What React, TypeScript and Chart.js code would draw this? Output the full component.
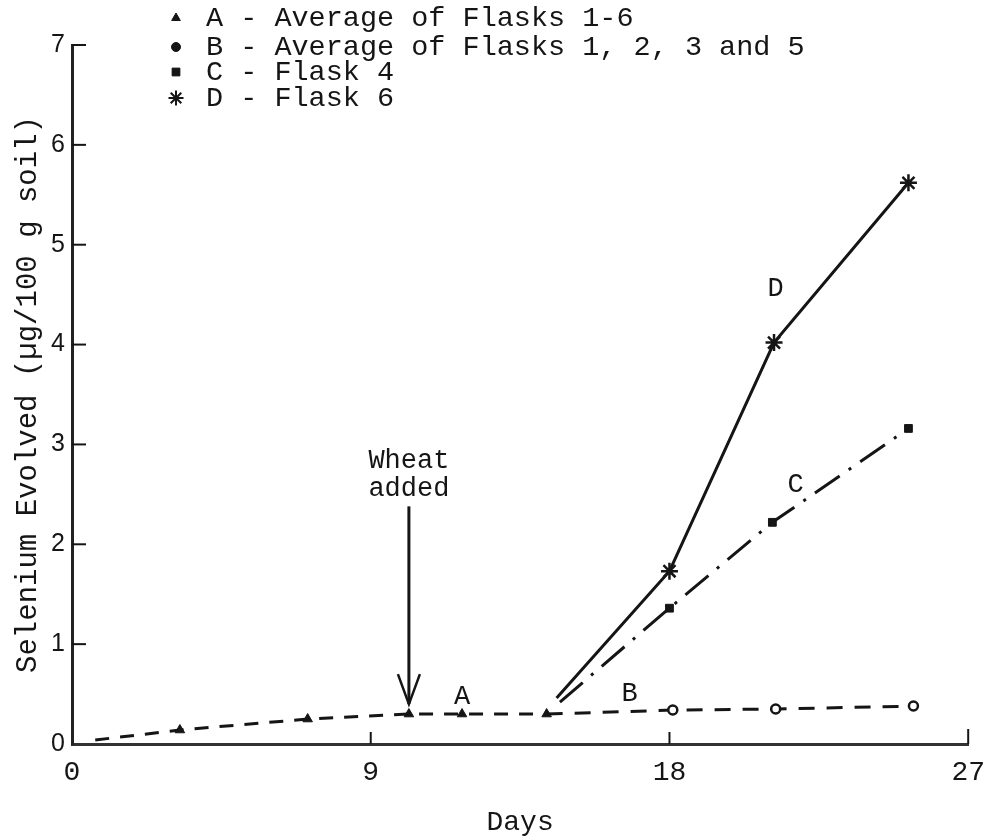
import React, { useEffect, useRef } from 'react';
import { Chart, registerables } from 'chart.js';
import { drawPoint } from 'chart.js/helpers';

Chart.register(...registerables);

// ---- data ----
const daysA = [0.7, 3.25, 7.1, 10.15, 11.75, 14.3];
const valuesA = [0.04, 0.14, 0.25, 0.3, 0.3, 0.3];
const daysB = [14.3, 18.1, 21.2, 25.35];
const valuesB = [0.3, 0.34, 0.35, 0.38];
const daysC = [14.7, 18.0, 21.1, 25.2];
const valuesC = [0.42, 1.36, 2.22, 3.16];
const daysD = [14.6, 18.0, 21.15, 25.2];
const valuesD = [0.46, 1.73, 4.02, 5.62];

const xTicks = [0, 9, 18, 27];
const yTicks = [0, 1, 2, 3, 4, 5, 6, 7];

const seriesLabels = [
  'A - Average of Flasks 1-6',
  'B - Average of Flasks 1, 2, 3 and 5',
  'C - Flask 4',
  'D - Flask 6',
];
const curveLetters = ['A', 'B', 'C', 'D'];
const curveLetterDays = [11.75, 16.8, 21.8, 21.2];
const curveLetterValues = [0.47, 0.5, 2.6, 4.56];

const wheatText = ['Wheat', 'added'];
const wheatDay = 10.15;
const wheatTextValues = [2.84, 2.56];
const wheatArrowTop = 2.38;
const wheatArrowBottom = 0.4;

const MONO = '"Liberation Mono", "DejaVu Sans Mono", monospace';
const INK = '#151515';

function pts(xs: number[], ys: number[]) {
  return xs.map((x, i) => ({ x, y: ys[i] }));
}

const overlayPlugin = {
  id: 'overlay',
  afterDatasetsDraw(chart: any) {
    const { ctx, chartArea, scales } = chart;
    const xs = scales.x;
    const ys = scales.y;
    ctx.save();
    ctx.strokeStyle = INK;
    ctx.lineWidth = 2;
    // inside tick marks
    xTicks.forEach((t) => {
      if (t === 0) return;
      const px = xs.getPixelForValue(t);
      ctx.beginPath();
      ctx.moveTo(px, chartArea.bottom);
      ctx.lineTo(px, chartArea.bottom - (t === 27 ? 15 : 12));
      ctx.stroke();
    });
    yTicks.forEach((t) => {
      if (t === 0) return;
      const py = ys.getPixelForValue(t);
      ctx.beginPath();
      ctx.moveTo(chartArea.left, py);
      ctx.lineTo(chartArea.left + 14, py);
      ctx.stroke();
    });

    // curve letters
    ctx.fillStyle = INK;
    ctx.font = `27px ${MONO}`;
    ctx.textAlign = 'center';
    ctx.textBaseline = 'middle';
    curveLetters.forEach((l, i) => {
      ctx.fillText(l, xs.getPixelForValue(curveLetterDays[i]), ys.getPixelForValue(curveLetterValues[i]));
    });

    // wheat added
    const wx = xs.getPixelForValue(wheatDay);
    wheatText.forEach((t, i) => {
      ctx.fillText(t, wx, ys.getPixelForValue(wheatTextValues[i]));
    });
    const top = ys.getPixelForValue(wheatArrowTop);
    const bot = ys.getPixelForValue(wheatArrowBottom);
    ctx.lineWidth = 3;
    ctx.beginPath();
    ctx.moveTo(wx, top);
    ctx.lineTo(wx, bot);
    ctx.stroke();
    ctx.lineWidth = 2.5;
    ctx.beginPath();
    ctx.moveTo(wx - 11, bot - 30);
    ctx.lineTo(wx, bot);
    ctx.lineTo(wx + 11, bot - 30);
    ctx.stroke();
    ctx.restore();
  },
  afterDraw(chart: any) {
    const { ctx } = chart;
    ctx.save();
    const rowY = [18, 47, 72, 98];
    const markerX = 176;
    const textX = 206;
    ctx.font = `28.5px ${MONO}`;
    ctx.textAlign = 'left';
    ctx.textBaseline = 'middle';
    ctx.fillStyle = INK;
    ctx.strokeStyle = INK;
    const styles = [
      { pointStyle: 'triangle', radius: 5, borderWidth: 1 },
      { pointStyle: 'circle', radius: 4.5, borderWidth: 1 },
      { pointStyle: 'rect', radius: 5.5, borderWidth: 1 },
      { pointStyle: 'star', radius: 7.5, borderWidth: 2 },
    ];
    seriesLabels.forEach((lab, i) => {
      ctx.fillStyle = INK;
      ctx.lineWidth = styles[i].borderWidth;
      drawPoint(ctx, { pointStyle: styles[i].pointStyle as any, radius: styles[i].radius, rotation: 0, borderWidth: styles[i].borderWidth }, markerX, rowY[i]);
      ctx.fillStyle = INK;
      ctx.fillText(lab, textX, rowY[i]);
    });
    ctx.restore();
  },
};

export default function App() {
  const ref = useRef<HTMLCanvasElement>(null);
  useEffect(() => {
    const canvas = ref.current!;
    const chart = new Chart(canvas, {
      type: 'line',
      data: {
        datasets: [
          {
            label: seriesLabels[0],
            data: pts(daysA, valuesA),
            borderColor: INK,
            borderWidth: 3,
            borderDash: [14, 11],
            pointStyle: 'triangle',
            pointRadius: daysA.map((_, i) => (i === 0 ? 0 : 5.5)),
            pointBackgroundColor: INK,
            pointBorderColor: INK,
            pointBorderWidth: 1,
          },
          {
            label: seriesLabels[1],
            data: pts(daysB, valuesB),
            borderColor: INK,
            borderWidth: 3,
            borderDash: [16, 12],
            pointStyle: 'circle',
            pointRadius: daysB.map((_, i) => (i === 0 ? 0 : 4.5)),
            pointBackgroundColor: '#fff',
            pointBorderColor: INK,
            pointBorderWidth: 2.5,
          },
          {
            label: seriesLabels[2],
            data: pts(daysC, valuesC),
            borderColor: INK,
            borderWidth: 3,
            borderDash: [30, 11, 3, 11],
            pointStyle: 'rect',
            pointRadius: daysC.map((_, i) => (i === 0 ? 0 : 5.5)),
            pointBackgroundColor: INK,
            pointBorderColor: INK,
            pointBorderWidth: 1,
          },
          {
            label: seriesLabels[3],
            data: pts(daysD, valuesD),
            borderColor: INK,
            borderWidth: 3,
            pointStyle: 'star',
            pointRadius: daysD.map((_, i) => (i === 0 ? 0 : 8.5)),
            pointBackgroundColor: INK,
            pointBorderColor: INK,
            pointBorderWidth: 2.5,
          },
        ],
      },
      options: {
        animation: false,
        responsive: true,
        maintainAspectRatio: false,
        layout: { padding: { left: 0, right: 20, top: 45, bottom: 0 } },
        plugins: {
          legend: { display: false },
          tooltip: { enabled: false },
        },
        elements: { line: { tension: 0 } },
        scales: {
          x: {
            type: 'linear',
            min: 0,
            max: 27,
            afterBuildTicks: (s: any) => {
              s.ticks = xTicks.map((v) => ({ value: v }));
            },
            afterFit: (s: any) => {
              s.height = 93;
            },
            ticks: {
              color: INK,
              font: { family: MONO, size: 28 },
              padding: 12,
            },
            grid: { display: true, drawOnChartArea: false, drawTicks: false },
            border: { display: true, width: 3, color: '#333' },
            title: {
              display: true,
              text: 'Days',
              color: INK,
              font: { family: MONO, size: 28, lineHeight: 1.0 },
              padding: { top: 0, bottom: 0 },
            },
          },
          y: {
            type: 'linear',
            min: 0,
            max: 7,
            afterBuildTicks: (s: any) => {
              s.ticks = yTicks.map((v) => ({ value: v }));
            },
            afterFit: (s: any) => {
              s.width = 72;
            },
            ticks: {
              color: INK,
              font: { family: '"Liberation Sans", Arial, sans-serif', size: 25 },
              padding: 7,
            },
            grid: { display: true, drawOnChartArea: false, drawTicks: false },
            border: { display: true, width: 3, color: '#222' },
            title: {
              display: true,
              text: 'Selenium Evolved (µg/100 g soil)',
              color: INK,
              font: { family: MONO, size: 29, lineHeight: 1.0 },
              padding: { top: 14, bottom: 0 },
            },
          },
        },
      },
      plugins: [overlayPlugin],
    });
    return () => chart.destroy();
  }, []);
  return (
    <div style={{ position: 'fixed', left: 0, top: 0, width: 997, height: 837, background: '#fff' }}>
      <canvas ref={ref} />
    </div>
  );
}
